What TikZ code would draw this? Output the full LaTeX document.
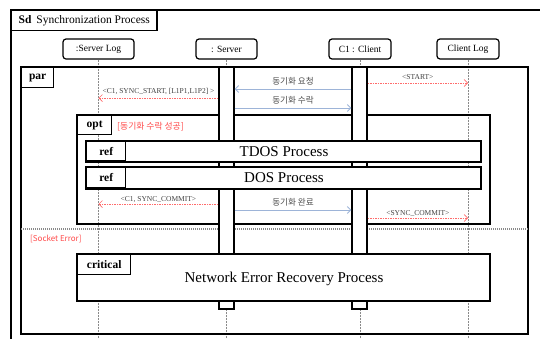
\documentclass[tikz,border=0pt]{standalone}
\usepackage{fontspec}
\setmainfont{Liberation Serif}
\newfontfamily\kofont{Noto Sans CJK KR}
\usepackage{xcolor}
\usepackage{tikz}
\usetikzlibrary{arrows.meta,positioning,calc}
\definecolor{cNote}{HTML}{FF6B6B}
\definecolor{cSync}{HTML}{9DB4D8}
\definecolor{cGuard}{HTML}{FF4A4A}
\definecolor{cLife}{HTML}{8A8A8A}
\newcommand{\kor}[1]{{\kofont #1}}

\begin{document}
\begin{tikzpicture}[
    x=1pt, y=-1pt,
    font=\fontsize{9.5}{11}\selectfont,
    >={Straight Barb[length=3.5pt,width=7pt]},
    head/.style={draw, line width=1.2pt, rounded corners=3pt, fill=white,
                 minimum height=20pt, inner sep=0pt},
    life/.style={draw=cLife, line width=0.5pt, densely dotted},
    bar/.style={draw, fill=white, line width=1.2pt, minimum width=15pt,
                minimum height=242pt, inner sep=0pt},
    frame/.style={draw, line width=1.4pt},
    tag/.style={draw, line width=1.4pt, fill=white, anchor=north west,
                inner sep=0pt, minimum height=20pt,
                font=\fontsize{11.5}{12}\selectfont\bfseries},
    refbox/.style={draw, line width=1.4pt, fill=white},
    title/.style={font=\fontsize{15}{16}\selectfont},
    sync/.style={draw=cSync, line width=0.9pt, ->},
    note/.style={draw=cNote, line width=0.7pt, dash pattern=on 1.5pt off 1pt, ->},
    msg/.style={font=\fontsize{7.5}{8}\selectfont, text=black!75, inner sep=1pt},
    kmsg/.style={font=\kofont\fontsize{8.6}{9}\selectfont, text=black!70, inner sep=1pt},
    guard/.style={font=\kofont\fontsize{8.8}{9}\selectfont, text=cGuard,
                  anchor=west, inner sep=0pt}
]
\clip (0,0) rectangle (540,338);

% --- sd frame ---
\draw[line width=1.1pt] (11,10) rectangle (560,360);
\node[tag, font=\fontsize{11.5}{12}\selectfont, inner xsep=7pt] (sd) at (11,10)
  {\textbf{Sd}\hspace{5pt}Synchronization Process};

% --- lifelines ---
\node[head, minimum width=71pt] (slog) at (98.5,49) {:Server Log};
\node[head, minimum width=61pt] (srv)  at (226.5,49) {: Server};
\node[head, minimum width=62pt] (cli)  at (360,49) {C1 : Client};
\node[head, minimum width=62pt] (clog) at (468,49) {Client Log};

\draw[life] (slog.south) -- (slog.south |- 0,345);
\draw[life] (srv.south)  -- (srv.south |- 0,345);
\draw[life] (cli.south)  -- (cli.south |- 0,345);
\draw[life] (clog.south) -- (clog.south |- 0,345);

% --- par / opt ---
\draw[frame] (21,67) rectangle (528,334);
\node[tag, minimum width=32pt] (par) at (21,67) {par};
\draw[frame, line width=1.3pt] (77,115) rectangle (490,224);
\node[tag, minimum width=34pt, minimum height=19pt] (opt) at (77,115) {opt};
\node[guard] (okg) at (117,127) {[동기화 수락 성공]};
\draw[cLife, line width=1.6pt, dash pattern=on 1pt off 1pt] (21,229) -- (528,229);
\node[guard, font=\kofont\fontsize{8}{8}\selectfont] (errg) at (30,239) {[Socket Error]};

% --- activations ---
\node[bar] (svbar) at (226.5,188) {};
\node[bar] (clbar) at (359.5,188) {};

% --- ref / critical ---
\draw[refbox] (86,141) rectangle (481,162);
\node[tag, minimum width=39pt, minimum height=19pt] (ref1) at (86,141) {ref};
\node[title] (tdos) at (284,152) {TDOS Process};
\draw[refbox] (86,167) rectangle (481,189);
\node[tag, minimum width=39pt, minimum height=20pt] (ref2) at (86,167) {ref};
\node[title] (dos) at (284,178) {DOS Process};
\draw[refbox] (77,254) rectangle (490,301);
\node[tag, minimum width=53pt] (crit) at (77,254) {critical};
\node[title] (ner) at (284,279) {Network Error Recovery Process};

% --- messages ---
\draw[note] (svbar.west |- 0,98) -- node[msg, above=2pt] (m1)
  {<C1, SYNC\_START, [L1P1,L1P2] >} (slog.south |- 0,98);
\draw[sync] (clbar.west |- 0,89) -- node[kmsg, above=2pt] (m2)
  {동기화 요청} (svbar.east |- 0,89);
\draw[note] (clbar.east |- 0,83) -- node[msg, above=2pt] (m3)
  {<START>} (clog.south |- 0,83);
\draw[sync] (svbar.east |- 0,108) -- node[kmsg, above=2pt] (m4)
  {동기화 수락} (clbar.west |- 0,108);
\draw[note] (svbar.west |- 0,204) -- node[msg, above=0pt] (m5)
  {<C1, SYNC\_COMMIT>} (slog.south |- 0,204);
\draw[sync] (svbar.east |- 0,210) -- node[kmsg, above=2pt] (m6)
  {동기화 완료} (clbar.west |- 0,210);
\draw[note] (clbar.east |- 0,218) -- node[msg, above=0pt] (m7)
  {<SYNC\_COMMIT>} (clog.south |- 0,218);

\end{tikzpicture}
\end{document}
